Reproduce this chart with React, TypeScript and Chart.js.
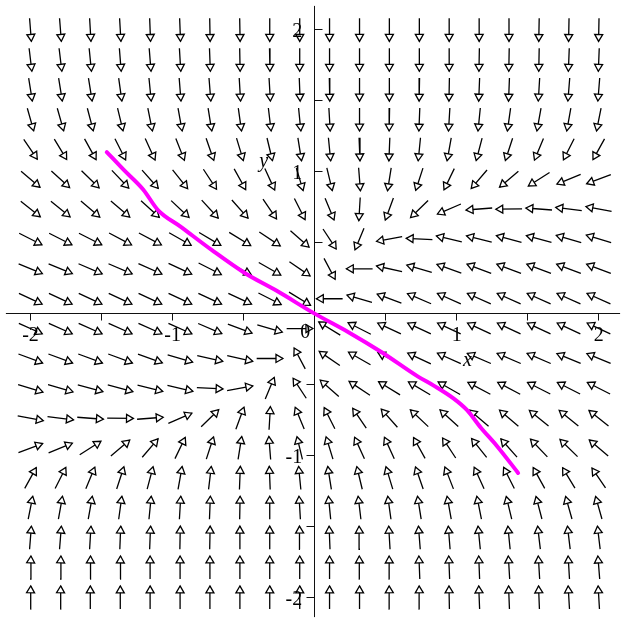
import { useEffect, useRef } from "react";
import { Chart, registerables } from "chart.js";

Chart.register(...registerables);

// Plot window (data units)
const X_MIN = -2.173;
const X_MAX = 2.150;
const Y_MIN = -2.138;
const Y_MAX = 2.168;

// Sample points of the direction field
const GRID_X = [-2, -1.789, -1.579, -1.368, -1.158, -0.947, -0.737, -0.526, -0.316, -0.105,
  0.105, 0.316, 0.526, 0.737, 0.947, 1.158, 1.368, 1.579, 1.789, 2];
const GRID_Y = [2, 1.789, 1.579, 1.368, 1.158, 0.947, 0.737, 0.526, 0.316, 0.105,
  -0.105, -0.316, -0.526, -0.737, -0.947, -1.158, -1.368, -1.579, -1.789, -2];

// Arrow direction (degrees, counter-clockwise from +x) for each row of GRID_Y, columns follow GRID_X
const FIELD_ANGLES: number[][] = [
  [-86, -86, -87, -87, -88, -88, -89, -89, -90, -90, -90, -90, -90, -90, -90, -90, -90, -91, -91, -91],
  [-84, -84, -85, -86, -86, -87, -88, -89, -89, -90, -90, -90, -90, -90, -90, -91, -91, -91, -92, -92],
  [-82, -82, -82, -83, -85, -86, -86, -87, -87, -88, -89, -90, -90, -91, -91, -92, -92, -93, -94, -94],
  [-76, -76, -77, -78, -80, -81, -82, -83, -84, -85, -87, -90, -91, -92, -93, -95, -97, -99, -99, -100],
  [-59, -62, -64, -66, -68, -71, -73, -75, -78, -82, -85, -88, -92, -95, -99, -103, -106, -110, -114, -116],
  [-44, -46, -48, -50, -52, -55, -60, -64, -68, -75, -78, -86, -98, -106, -113, -127, -136, -144, -155, -157],
  [-42, -43, -44, -44, -46, -47, -51, -52, -59, -66, -70, -93, -108, -132, -154, -175, -179, 175, 172, 168],
  [-30, -30, -30, -31, -31, -33, -34, -35, -37, -45, -60, -110, -168, 177, 165, 164, 163, 163, 162, 161],
  [-25, -25, -26, -26, -27, -28, -30, -31, -33, -38, -65, 180, 166, 162, 158, 157, 157, 157, 157, 157],
  [-28, -28, -28, -28, -28, -28, -28, -28, -30, -35, 180, 162, 157, 154, 153, 153, 153, 153, 153, 153],
  [-27, -27, -27, -27, -27, -27, -26, -23, -18, 0, 145, 150, 152, 152, 152, 152, 152, 152, 152, 152],
  [-23, -23, -23, -23, -22, -18, -14, -14, 0, 115, 142, 147, 150, 152, 153, 154, 154, 154, 155, 155],
  [-19, -18, -17, -17, -16, -15, -3, 12, 70, 120, 135, 143, 145, 146, 147, 149, 149, 150, 150, 150],
  [-12, -8, -5, -1, 5, 26, 48, 72, 87, 110, 114, 121, 128, 133, 134, 136, 136, 137, 137, 138],
  [23, 25, 36, 44, 53, 67, 74, 82, 94, 102, 105, 112, 112, 116, 120, 125, 128, 130, 132, 136],
  [64, 66, 70, 74, 77, 81, 84, 88, 92, 95, 98, 102, 105, 107, 109, 112, 114, 116, 118, 121],
  [80, 81, 81, 83, 85, 87, 88, 89, 90, 93, 95, 96, 97, 98, 99, 100, 102, 103, 104, 104],
  [86, 86, 87, 88, 88, 89, 89, 90, 90, 91, 92, 92, 93, 94, 94, 95, 95, 96, 96, 96],
  [88, 88, 89, 89, 90, 90, 90, 90, 90, 90, 90, 91, 91, 92, 92, 92, 93, 93, 93, 94],
  [89, 89, 90, 90, 90, 90, 90, 90, 90, 90, 90, 90, 91, 91, 91, 92, 92, 92, 93, 93],
];

// Solution curve through the origin
const CURVE_X = [-1.463, -1.345, -1.207, -1.103, -0.944, -0.723, -0.495, -0.261, 0,
  0.244, 0.472, 0.728, 0.838, 0.977, 1.073, 1.170, 1.280, 1.432];
const CURVE_Y = [1.138, 1.014, 0.875, 0.730, 0.613, 0.447, 0.288, 0.157, 0,
  -0.134, -0.272, -0.444, -0.507, -0.597, -0.680, -0.804, -0.929, -1.122];

// Axis decorations
const X_TICKS = [-2, -1.5, -1, -0.5, 0.5, 1, 1.5, 2];
const Y_TICKS = [2, 1.5, 1, 0.5, -0.5, -1, -1.5, -2];
const X_LABELS = [-2, -1, 1, 2];
const Y_LABELS = [2, 1, -1, -2];

// Arrow geometry (data units)
const HALF_LEN_X = 0.092;
const HALF_LEN_Y = 0.081;
const HEAD_RADIUS_PX = 4.6;
const PX_PER_UNIT = 144.75;

type Pt = { x: number; y: number | null };

function buildArrows() {
  const shafts: Pt[] = [];
  const heads: { x: number; y: number }[] = [];
  const rotations: number[] = [];
  GRID_Y.forEach((gy, r) => {
    GRID_X.forEach((gx, c) => {
      const a = (FIELD_ANGLES[r][c] * Math.PI) / 180;
      const dx = Math.cos(a) * HALF_LEN_X;
      const dy = Math.sin(a) * HALF_LEN_Y;
      const tail = { x: gx - dx, y: gy - dy };
      const tip = { x: gx + dx, y: gy + dy };
      shafts.push(tail, tip, { x: tip.x, y: null });
      const len = Math.hypot(dx, dy);
      const off = HEAD_RADIUS_PX / PX_PER_UNIT;
      heads.push({ x: tip.x - (dx / len) * off, y: tip.y - (dy / len) * off });
      const screenAngle = (Math.atan2(dy, dx) * 180) / Math.PI;
      rotations.push(90 - screenAngle);
    });
  });
  return { shafts, heads, rotations };
}

const axesPlugin = {
  id: "fieldAxes",
  beforeDatasetsDraw(chart: any) {
    const { ctx, chartArea, scales } = chart;
    const xs = scales.x;
    const ys = scales.y;
    const ox = Math.floor(xs.getPixelForValue(0)) + 0.5;
    const oy = Math.floor(ys.getPixelForValue(0)) + 0.5;
    ctx.save();
    ctx.strokeStyle = "#111";
    ctx.lineWidth = 1;
    ctx.beginPath();
    ctx.moveTo(chartArea.left, oy);
    ctx.lineTo(chartArea.right, oy);
    ctx.moveTo(ox, chartArea.top);
    ctx.lineTo(ox, chartArea.bottom);
    X_TICKS.forEach((v) => {
      const px = Math.floor(xs.getPixelForValue(v)) + 0.5;
      ctx.moveTo(px, oy);
      ctx.lineTo(px, oy + 7);
    });
    Y_TICKS.forEach((v) => {
      const py = Math.floor(ys.getPixelForValue(v)) + 0.5;
      ctx.moveTo(ox, py);
      ctx.lineTo(v > 0 ? ox + 8 : ox - 8, py);
    });
    ctx.stroke();
    ctx.restore();
  },
  afterDatasetsDraw(chart: any) {
    const { ctx, scales } = chart;
    const xs = scales.x;
    const ys = scales.y;
    const ox = xs.getPixelForValue(0);
    const oy = ys.getPixelForValue(0);
    ctx.save();
    ctx.fillStyle = "#000";
    ctx.font = "20px 'Liberation Serif', 'Times New Roman', serif";
    ctx.textBaseline = "alphabetic";
    ctx.textAlign = "center";
    X_LABELS.forEach((v) => {
      ctx.fillText(String(v), xs.getPixelForValue(v), oy + 27.5);
    });
    ctx.textAlign = "right";
    Y_LABELS.forEach((v) => {
      ctx.fillText(String(v), ox - 12.5, ys.getPixelForValue(v) + 7);
    });
    ctx.fillText("0", ox - 4.5, oy + 24.5);
    ctx.font = "italic 20px 'Liberation Serif', 'Times New Roman', serif";
    ctx.textAlign = "left";
    ctx.fillText("x", xs.getPixelForValue(1.045), ys.getPixelForValue(-0.37));
    ctx.fillText("y", xs.getPixelForValue(-0.39), ys.getPixelForValue(1.03));
    ctx.restore();
  },
};

export default function App() {
  const canvasRef = useRef<HTMLCanvasElement | null>(null);

  useEffect(() => {
    const canvas = canvasRef.current;
    if (!canvas) return;
    const { shafts, heads, rotations } = buildArrows();
    const curve = CURVE_X.map((x, i) => ({ x, y: CURVE_Y[i] }));

    const chart = new Chart(canvas, {
      type: "line",
      data: {
        datasets: [
          {
            label: "solution",
            data: curve,
            borderColor: "#ff00ff",
            borderWidth: 4,
            pointRadius: 0,
            tension: 0.25,
            cubicInterpolationMode: "monotone",
            borderCapStyle: "round",
            borderJoinStyle: "round",
          },
          {
            label: "heads",
            data: heads,
            showLine: false,
            pointStyle: "triangle",
            pointRadius: HEAD_RADIUS_PX,
            pointRotation: rotations,
            pointBackgroundColor: "#ffffff",
            pointBorderColor: "#000000",
            pointBorderWidth: 1.3,
          },
          {
            label: "shafts",
            data: shafts as any,
            borderColor: "#000000",
            borderWidth: 1.3,
            pointRadius: 0,
            spanGaps: false,
            tension: 0,
          },
        ],
      },
      options: {
        animation: false,
        responsive: false,
        maintainAspectRatio: false,
        events: [],
        layout: { padding: 0 },
        plugins: {
          legend: { display: false },
          tooltip: { enabled: false },
        },
        scales: {
          x: { type: "linear", min: X_MIN, max: X_MAX, display: false },
          y: { type: "linear", min: Y_MIN, max: Y_MAX, display: false },
        },
      },
      plugins: [axesPlugin],
    });
    return () => chart.destroy();
  }, []);

  return (
    <div
      style={{
        position: "fixed",
        left: 0,
        top: 0,
        width: 626,
        height: 623,
        background: "#ffffff",
      }}
    >
      <canvas ref={canvasRef} width={626} height={623} style={{ display: "block" }} />
    </div>
  );
}
